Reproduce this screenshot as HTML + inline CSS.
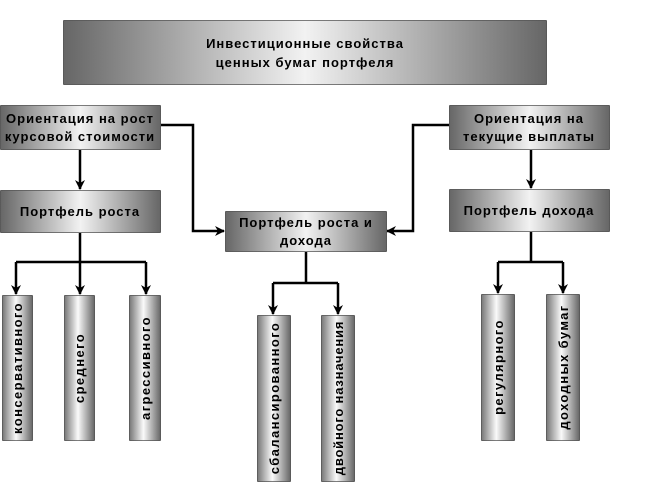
<!DOCTYPE html>
<html><head><meta charset="utf-8"><style>
body{margin:0;background:#fff}
svg{display:block}
text{font-family:"Liberation Sans",sans-serif;font-weight:bold;font-size:13px;fill:#000;text-anchor:middle;letter-spacing:1px}
text.v{letter-spacing:1.4px}
text.w{letter-spacing:0.8px}
</style></head><body>
<svg width="645" height="487" viewBox="0 0 645 487" xmlns="http://www.w3.org/2000/svg">
<defs>
<linearGradient id="g" x1="0" x2="1" y1="0" y2="0">
<stop offset="0" stop-color="#666"/><stop offset="0.5" stop-color="#f2f2f2"/><stop offset="1" stop-color="#666"/>
</linearGradient>
<linearGradient id="c" x1="0" x2="1" y1="0" y2="0">
<stop offset="0" stop-color="#777"/><stop offset="0.45" stop-color="#fafafa"/><stop offset="1" stop-color="#666"/>
</linearGradient>
<marker id="a" markerWidth="10" markerHeight="10" refX="9" refY="5" orient="auto" markerUnits="userSpaceOnUse">
<path d="M0,0 L10,5 L0,10 L3,5 Z" fill="#000"/></marker>
</defs>
<g stroke="#000" stroke-width="1" stroke-dasharray="1,1">
<rect x="63.5" y="20.5" width="483" height="64" fill="url(#g)"/>
<rect x="0.5" y="105.5" width="160" height="44" fill="url(#g)"/>
<rect x="0.5" y="190.5" width="160" height="42" fill="url(#g)"/>
<rect x="225.5" y="211.5" width="161" height="40" fill="url(#g)"/>
<rect x="449.5" y="105.5" width="160" height="44" fill="url(#g)"/>
<rect x="449.5" y="189.5" width="160" height="42" fill="url(#g)"/>
<rect x="2.5" y="295.5" width="30" height="145" fill="url(#c)"/>
<rect x="64.5" y="295.5" width="30" height="145" fill="url(#c)"/>
<rect x="129.5" y="295.5" width="31" height="145" fill="url(#c)"/>
<rect x="257.5" y="315.5" width="33" height="166" fill="url(#c)"/>
<rect x="321.5" y="315.5" width="33" height="166" fill="url(#c)"/>
<rect x="481.5" y="294.5" width="33" height="146" fill="url(#c)"/>
<rect x="546.5" y="294.5" width="33" height="146" fill="url(#c)"/>
</g>
<g fill="none" stroke="#000" stroke-width="2.5">
<path d="M80 150 V189" marker-end="url(#a)"/>
<path d="M161 125 H193 V231 H224" marker-end="url(#a)"/>
<path d="M449 125 H413 V231 H387" marker-end="url(#a)"/>
<path d="M531 150 V188" marker-end="url(#a)"/>
<path d="M80 233 V262 M16 262 H146"/>
<path d="M16 262 V294" marker-end="url(#a)"/>
<path d="M80 262 V294" marker-end="url(#a)"/>
<path d="M146 262 V294" marker-end="url(#a)"/>
<path d="M306 252 V283 M273 283 H338"/>
<path d="M273 283 V314" marker-end="url(#a)"/>
<path d="M338 283 V314" marker-end="url(#a)"/>
<path d="M531 232 V262 M498 262 H563"/>
<path d="M498 262 V293" marker-end="url(#a)"/>
<path d="M563 262 V293" marker-end="url(#a)"/>
</g>
<text x="305" y="48">Инвестиционные свойства</text>
<text x="305" y="67">ценных бумаг портфеля</text>
<text x="80" y="123">Ориентация на рост</text>
<text x="80" y="141">курсовой стоимости</text>
<text x="80" y="216">Портфель роста</text>
<text x="306" y="227">Портфель роста и</text>
<text x="306" y="245">дохода</text>
<text x="529" y="123">Ориентация на</text>
<text x="529" y="141">текущие выплаты</text>
<text x="529" y="215">Портфель дохода</text>
<text class="v" transform="translate(22,368) rotate(-90)">консервативного</text>
<text class="v" transform="translate(84,368) rotate(-90)">среднего</text>
<text class="v" transform="translate(150,368) rotate(-90)">агрессивного</text>
<text class="v" transform="translate(279,398) rotate(-90)">сбалансированного</text>
<text class="w" transform="translate(343,398) rotate(-90)">двойного назначения</text>
<text class="v" transform="translate(503,367) rotate(-90)">регулярного</text>
<text class="v" transform="translate(568,367) rotate(-90)">доходных бумаг</text>
</svg>
</body></html>
